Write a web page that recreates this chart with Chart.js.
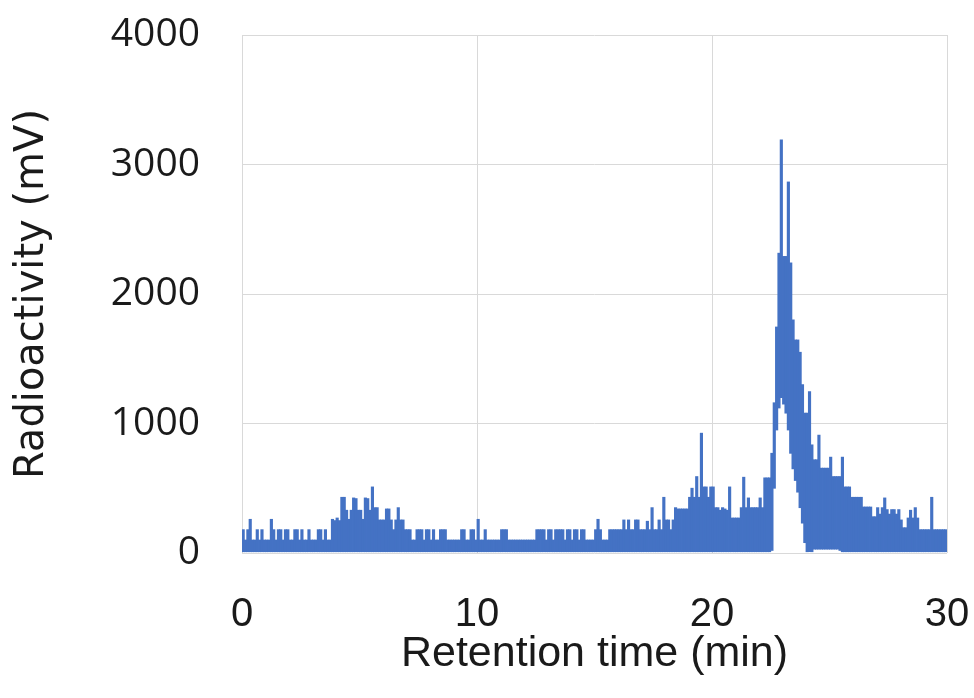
<!DOCTYPE html>
<html>
<head>
<meta charset="utf-8">
<script src="https://cdn.jsdelivr.net/npm/chart.js@4"></script>
<style>
  html, body { margin: 0; padding: 0; background: #ffffff; }
  #wrap { width: 974px; height: 698px; }
</style>
</head>
<body>
<div id="wrap"><canvas id="chart" width="974" height="698"></canvas></div>
<script>
// Radio-HPLC trace: detector signal binned every 0.1 min.
// Each bin holds the low and high reading of the signal inside that bin (mV).
const binMinutes = 0.1;

const signalHigh = [
  // 0–1 min
  180, 100, 180, 260, 100, 100, 180, 100, 180, 100,
  // 1–2
  100, 100, 260, 180, 100, 180, 180, 100, 180, 180,
  // 2–3
  100, 100, 180, 180, 100, 180, 100, 100, 180, 100,
  // 3–4
  100, 100, 180, 180, 100, 180, 100, 100, 260, 250,
  // 4–5
  270, 250, 430, 430, 330, 260, 330, 425, 420, 330,
  // 5–6
  330, 260, 425, 420, 330, 510, 350, 350, 255, 255,
  // 6–7
  255, 340, 340, 255, 180, 255, 350, 255, 255, 180,
  // 7–8
  180, 180, 100, 100, 180, 180, 180, 100, 180, 180,
  // 8–9
  100, 180, 100, 100, 180, 180, 180, 100, 100, 100,
  // 9–10
  100, 100, 100, 180, 180, 100, 100, 180, 180, 100,
  // 10–11
  260, 100, 100, 180, 100, 100, 100, 100, 100, 100,
  // 11–12
  180, 180, 180, 100, 100, 100, 100, 100, 100, 100,
  // 12–13
  100, 100, 100, 100, 100, 180, 180, 180, 180, 100,
  // 13–14
  180, 180, 100, 180, 180, 180, 180, 100, 180, 180,
  // 14–15
  100, 180, 180, 100, 180, 180, 100, 100, 100, 100,
  // 15–16
  180, 260, 180, 100, 100, 100, 180, 180, 180, 180,
  // 16–17
  180, 180, 255, 180, 255, 180, 180, 255, 255, 180,
  // 17–18
  180, 180, 245, 180, 350, 180, 180, 255, 180, 430,
  // 18–19
  255, 255, 180, 255, 350, 340, 340, 340, 340, 340,
  // 19–20
  430, 500, 430, 590, 430, 925, 510, 510, 430, 510,
  // 20–21
  510, 350, 350, 330, 350, 340, 330, 510, 270, 270,
  // 21–22
  270, 270, 350, 585, 350, 425, 350, 350, 350, 350,
  // 22–23
  425, 350, 580, 580, 580, 770, 1160, 1745, 2315, 3190,
  // 23–24
  2290, 2290, 2865, 2240, 1800, 1645, 1645, 1550, 1300, 1080,
  // 24–25
  1080, 1245, 835, 720, 720, 910, 655, 655, 655, 655,
  // 25–26
  740, 590, 590, 590, 590, 740, 510, 510, 510, 430,
  // 26–27
  430, 430, 430, 430, 355, 355, 355, 355, 280, 280,
  // 27–28
  350, 300, 350, 425, 335, 300, 335, 335, 300, 335,
  // 28–29
  255, 195, 195, 270, 330, 270, 350, 270, 180, 180,
  // 29–30
  180, 180, 180, 430, 180, 180, 180, 180, 180, 180
];

const signalLow = [
  // 0–22 min: baseline floor
  10, 10, 10, 10, 10, 10, 10, 10, 10, 10,
  10, 10, 10, 10, 10, 10, 10, 10, 10, 10,
  10, 10, 10, 10, 10, 10, 10, 10, 10, 10,
  10, 10, 10, 10, 10, 10, 10, 10, 10, 10,
  10, 10, 10, 10, 10, 10, 10, 10, 10, 10,
  10, 10, 10, 10, 10, 10, 10, 10, 10, 10,
  10, 10, 10, 10, 10, 10, 10, 10, 10, 10,
  10, 10, 10, 10, 10, 10, 10, 10, 10, 10,
  10, 10, 10, 10, 10, 10, 10, 10, 10, 10,
  10, 10, 10, 10, 10, 10, 10, 10, 10, 10,
  10, 10, 10, 10, 10, 10, 10, 10, 10, 10,
  10, 10, 10, 10, 10, 10, 10, 10, 10, 10,
  10, 10, 10, 10, 10, 10, 10, 10, 10, 10,
  10, 10, 10, 10, 10, 10, 10, 10, 10, 10,
  10, 10, 10, 10, 10, 10, 10, 10, 10, 10,
  10, 10, 10, 10, 10, 10, 10, 10, 10, 10,
  10, 10, 10, 10, 10, 10, 10, 10, 10, 10,
  10, 10, 10, 10, 10, 10, 10, 10, 10, 10,
  10, 10, 10, 10, 10, 10, 10, 10, 10, 10,
  10, 10, 10, 10, 10, 10, 10, 10, 10, 10,
  10, 10, 10, 10, 10, 10, 10, 10, 10, 10,
  10, 10, 10, 10, 10, 10, 10, 10, 10, 10,
  // 22–23: main peak lifts the floor
  10, 10, 10, 10, 10, 20, 500, 950, 1120, 1200,
  // 23–24
  1150, 1080, 950, 770, 650, 560, 470, 350, 230, 80,
  // 24–25
  10, 10, 10, 30, 30, 30, 30, 30, 30, 30,
  // 25–26
  30, 30, 30, 30, 20, 10, 10, 10, 10, 10,
  // 26–30
  10, 10, 10, 10, 10, 10, 10, 10, 10, 10,
  10, 10, 10, 10, 10, 10, 10, 10, 10, 10,
  10, 10, 10, 10, 10, 10, 10, 10, 10, 10,
  10, 10, 10, 10, 10, 10, 10, 10, 10, 10
];

const timeTicks = [0, 10, 20, 30];
const activityTicks = [0, 1000, 2000, 3000, 4000];

const traceColor = '#4472C4';
const gridColor = '#d9d9d9';
const textColor = '#1a1a1a';

const bins = signalHigh.map((hi, i) => ({
  x: (i + 0.5) * binMinutes,
  y: [signalLow[i], hi]
}));

new Chart(document.getElementById('chart'), {
  type: 'bar',
  data: {
    datasets: [{
      data: bins,
      backgroundColor: traceColor,
      borderWidth: 0,
      barPercentage: 1,
      categoryPercentage: 1,
      inflateAmount: 0.4
    }]
  },
  options: {
    responsive: false,
    animation: false,
    events: [],
    layout: { padding: { left: 0, top: 35, right: 27, bottom: 0 } },
    plugins: {
      legend: { display: false },
      tooltip: { enabled: false }
    },
    scales: {
      x: {
        type: 'linear',
        min: 0,
        max: 30,
        offset: false,
        afterBuildTicks: s => { s.ticks = timeTicks.map(v => ({ value: v })); },
        afterFit: s => { s.height = 145; s.paddingLeft = 0; s.paddingRight = 0; },
        grid: { color: gridColor, lineWidth: 1, drawTicks: false, offset: false },
        border: { display: false },
        ticks: {
          padding: 38,
          maxRotation: 0,
          color: textColor,
          callback: v => String(v),
          font: { family: "'Liberation Sans', Arial, sans-serif", size: 40 }
        },
        title: {
          display: true,
          text: 'Retention time (min)',
          color: textColor,
          padding: { top: 0, bottom: 18 },
          font: { family: "'Liberation Sans', Arial, sans-serif", size: 43 }
        }
      },
      y: {
        type: 'linear',
        min: 0,
        max: 4000,
        afterBuildTicks: s => { s.ticks = activityTicks.map(v => ({ value: v })); },
        afterFit: s => { s.width = 242; s.paddingTop = 0; s.paddingBottom = 0; },
        grid: { color: gridColor, lineWidth: 1, drawTicks: false },
        border: { display: false },
        ticks: {
          padding: 42,
          color: textColor,
          callback: v => String(v),
          font: { family: "'Open Sans', sans-serif", size: 39 }
        },
        title: {
          display: true,
          text: 'Radioactivity (mV)',
          color: textColor,
          padding: { top: 9, bottom: 0 },
          font: { family: "'DejaVu Sans', sans-serif", size: 40 }
        }
      }
    }
  }
});
</script>
</body>
</html>
